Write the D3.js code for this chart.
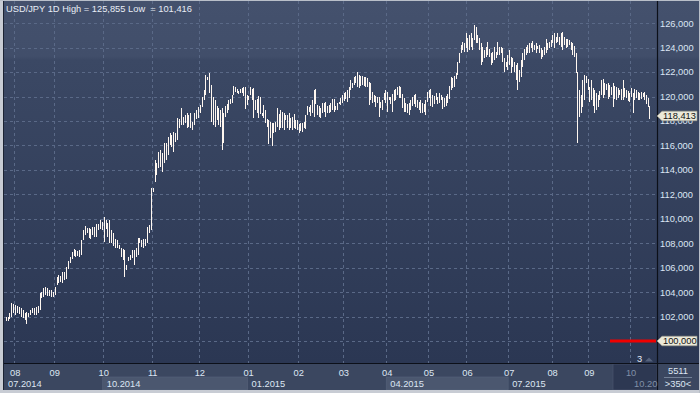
<!DOCTYPE html>
<html><head><meta charset="utf-8">
<script src="https://cdn.jsdelivr.net/npm/d3@7"></script>
<style>html,body{margin:0;padding:0;background:#3a4660;overflow:hidden}svg{display:block}text{font-family:"Liberation Sans",Arial,sans-serif}</style>
</head><body><svg id="c" width="700" height="393"></svg>
<script>
const symbol = "USD/JPY 1D";
const highs = [
101.94,101.99,102.26,103.08,103.03,102.94,102.86,102.81,102.67,102.54,
102.26,102.40,102.26,102.54,102.67,102.67,102.81,102.86,103.90,104.04,
104.31,104.39,104.31,104.17,104.17,104.04,104.44,105.26,105.37,105.32,
105.67,105.67,106.08,106.57,106.90,107.31,107.50,107.44,107.39,107.44,
108.26,109.08,109.43,109.22,109.22,109.13,109.35,109.30,109.57,109.57,
109.90,109.76,110.12,109.90,109.68,109.90,109.08,108.86,108.32,108.26,
107.85,107.58,107.50,107.44,106.22,106.90,107.03,107.44,107.44,107.58,
108.40,108.40,108.26,108.32,108.32,109.35,109.49,112.49,112.49,114.81,
114.53,115.49,115.62,115.35,116.17,116.17,116.71,116.99,116.85,117.12,
116.99,118.21,118.13,119.03,118.35,118.49,118.62,118.49,118.62,117.94,
118.62,118.90,119.17,119.31,119.99,120.53,121.76,121.62,121.95,120.94,
119.99,119.71,
119.22,119.03,118.90,119.03,118.62,119.22,119.39,119.71,119.77,120.12,
120.89,120.75,120.59,120.48,120.59,120.67,120.75,120.80,120.12,120.04,
120.75,120.59,120.67,119.71,119.77,120.04,119.99,118.68,119.31,118.90,
118.13,118.08,117.94,117.86,117.80,117.94,119.03,118.57,118.90,118.76,
118.62,118.49,118.49,118.62,118.21,118.35,118.57,118.08,118.08,117.75,
117.86,117.80,117.94,118.49,119.22,119.17,119.31,119.71,120.53,120.59,
119.31,119.22,119.03,119.44,119.50,119.58,119.22,119.31,119.44,119.77,
119.77,119.22,119.44,119.58,119.85,120.12,120.31,120.40,120.53,120.80,
121.35,121.08,121.57,121.68,122.03,121.76,121.68,121.68,121.57,121.62,
121.49,121.21,121.08,120.40,120.12,120.04,119.99,119.93,119.58,119.71,
120.31,120.53,120.40,119.99,119.99,120.21,120.53,120.59,120.75,120.86,
120.80,120.21,119.85,119.50,119.39,119.44,119.71,119.99,120.12,120.21,
119.71,119.58,119.71,119.44,119.39,119.71,120.40,120.53,
120.59,120.12,120.04,120.26,119.99,120.31,120.12,119.99,119.85,120.04,
120.21,120.86,121.57,121.49,121.68,121.89,122.85,123.53,124.21,124.49,
124.35,125.17,124.76,125.03,125.22,124.76,125.855,125.71,125.03,124.76,
124.35,124.08,123.80,124.08,124.49,123.86,123.53,123.67,124.08,123.67,
124.49,124.08,124.08,123.94,123.12,122.85,123.39,123.80,123.26,123.12,
122.85,122.58,122.71,122.17,122.99,123.53,123.86,124.08,124.21,124.35,
124.35,124.57,124.21,124.35,124.13,124.21,123.94,123.80,124.08,124.68,
124.35,124.49,124.62,125.03,125.17,124.89,125.17,124.89,125.22,125.30,
124.84,124.68,124.68,124.62,124.49,124.35,124.13,123.53,122.03,120.53,
120.12,121.35,121.76,121.68,121.40,120.80,121.35,120.67,120.53,120.26,
120.12,120.48,121.35,121.40,121.13,121.02,121.08,120.94,120.75,121.13,
120.86,120.75,120.67,120.53,120.59,121.35,120.67,120.53,120.48,120.26,
120.67,120.31,120.59,120.53,120.40,120.26,120.40,120.26,120.40,120.12,
119.85,119.22
];
const lows = [
101.66,101.66,101.77,101.99,102.32,102.13,102.26,102.21,101.99,101.85,
101.72,101.416,101.94,102.13,102.26,102.13,102.13,102.32,102.54,103.49,
103.63,103.76,103.68,103.68,103.57,103.63,103.76,104.58,104.72,104.83,
104.77,104.99,105.04,105.86,106.35,106.68,106.95,106.90,106.95,106.84,
107.03,108.26,108.67,108.81,108.45,108.32,108.67,108.48,108.48,109.08,
109.13,109.08,108.13,109.13,108.53,107.99,108.04,107.77,107.58,107.58,
107.50,106.90,106.63,105.21,105.81,106.57,106.63,106.76,106.22,106.90,
107.03,107.99,107.72,107.58,107.77,107.99,108.81,109.08,112.22,113.03,
113.58,114.12,114.26,113.85,114.53,114.81,115.21,116.03,115.90,115.49,
116.31,116.44,117.40,117.67,117.67,117.80,117.40,117.53,117.40,117.26,
117.67,118.13,118.21,118.62,119.17,119.71,120.12,121.35,120.26,117.94,
117.67,117.53,
118.08,117.67,117.53,115.62,116.22,118.30,118.62,118.90,119.39,119.44,
120.12,120.40,120.32,120.21,120.26,120.32,120.04,118.95,119.31,119.71,
120.12,119.71,118.21,118.90,118.62,118.21,118.57,118.40,118.21,117.80,
117.53,116.11,116.58,115.95,116.99,117.12,117.53,117.26,117.40,117.40,
117.26,118.08,117.40,117.26,117.40,117.26,117.40,117.31,117.26,116.99,
117.21,117.12,117.40,117.31,118.49,118.76,118.40,118.62,118.35,119.39,
118.49,118.35,118.21,118.62,118.76,118.35,118.68,118.62,118.76,118.90,
118.76,118.90,118.90,119.39,119.31,119.44,119.66,119.77,119.58,119.85,
120.53,120.67,120.94,121.08,120.80,120.67,120.86,120.94,120.86,120.75,
120.75,119.31,119.71,119.44,119.58,119.17,119.44,118.35,119.03,118.90,
119.71,119.44,118.76,119.71,119.39,118.76,119.66,119.71,120.12,119.85,
119.85,119.03,118.76,118.76,118.62,118.49,118.90,119.22,119.39,119.17,
119.03,118.90,118.62,118.62,118.76,118.49,119.58,119.85,
119.22,119.11,119.39,119.71,119.39,119.44,119.71,118.95,119.17,119.22,
119.44,119.77,120.53,120.67,120.80,121.40,121.76,122.71,123.53,123.80,
123.67,123.94,123.67,123.80,124.08,123.80,124.62,124.35,124.35,123.80,
122.58,122.85,123.12,123.26,123.39,123.26,122.58,122.71,122.99,123.12,
123.39,123.39,123.53,122.85,122.03,122.44,122.17,122.58,121.89,122.44,
122.03,121.35,120.53,121.21,121.62,122.44,122.99,123.39,123.53,123.59,
123.94,123.67,123.80,123.59,123.86,123.53,123.04,123.26,123.39,123.53,
123.80,123.94,124.08,124.35,123.94,124.35,124.49,124.21,124.08,123.80,
124.21,123.94,124.08,124.21,123.80,123.39,123.26,121.89,116.17,118.35,
118.62,119.17,119.71,121.08,120.53,119.58,119.71,119.22,118.62,118.90,
119.17,119.71,120.12,119.85,120.12,120.53,119.77,119.99,120.12,119.11,
119.77,119.71,119.85,120.12,119.71,119.71,119.99,119.85,119.66,119.58,
119.99,118.68,119.71,119.85,119.71,119.71,119.77,119.93,119.71,119.39,
119.11,118.13
];
const lastClose = 118.413;
const refLevel = 100.000;
const yTicks = [100,102,104,106,108,110,112,114,116,118,120,122,124,126];
const monthLabels = ["08","09","10","11","12","01","02","03","04","05","06","07","08","09","10"];
const monthStart  = [5,26,52,78,103,131,161,188,214,239,262,287,313,335,360];
const quarterLabels = ["07.2014","10.2014","01.2015","04.2015","07.2015","10.2015"];
const quarterStart  = [0,52,131,214,287,360];
const barCountLabel = "3";
const footerTop = "5511";
const footerBottom = ">350<";

const fmt = v => d3.format(".3f")(v).replace(".", ",");
const svg = d3.select("#c");
const P = {l:4, r:657, t:1, b:363};
const FS = 9.3;

const x = d3.scaleLinear().domain([0, 112, highs.length - 1]).range([5.7, 216.7, 649.3]);
const y = d3.scaleLinear().domain([100, 126]).range([341, 23.2]);

const defs = svg.append("defs");
const g = defs.append("linearGradient").attr("id","bg").attr("gradientUnits","userSpaceOnUse")
  .attr("x1",0).attr("y1",0).attr("x2",0).attr("y2",P.b);
[[0,"#44516d"],[0.155,"#414e6a"],[0.165,"#3b4864"],[1,"#2b3753"]].forEach(s=>g.append("stop").attr("offset",s[0]).attr("stop-color",s[1]));

// background
svg.append("rect").attr("x",0).attr("y",0).attr("width",700).attr("height",P.b).attr("fill","url(#bg)");
svg.append("rect").attr("x",0).attr("y",P.b).attr("width",700).attr("height",393-P.b).attr("fill","#3b4760");

// quarter shaded bands
const qBound = i => i === 0 ? P.l : x(quarterStart[i] - 0.5);
const qEnd = i => i + 1 < quarterStart.length ? x(quarterStart[i+1] - 0.5) : P.r;
quarterLabels.forEach((q,i)=>{
  if (i % 2 === 1 && i < quarterLabels.length - 1) {
    svg.append("rect").attr("x",qBound(i)).attr("y",377).attr("width",qEnd(i)-qBound(i)).attr("height",13)
      .attr("fill","#4b576f").attr("stroke","#56627a").attr("stroke-width",0.6);
  }
});
// dark scroll box
const boxX = 613;
svg.append("rect").attr("x",boxX).attr("y",P.b+1).attr("width",P.r-boxX).attr("height",26)
  .attr("fill","#2d3852").attr("stroke","#46526a").attr("stroke-width",0.8);

// grid
const grid = svg.append("g").attr("stroke","#5a6987").attr("stroke-width",1).attr("stroke-dasharray","3,3").attr("shape-rendering","crispEdges");
yTicks.forEach(t=>{
  grid.append("line").attr("x1",P.l).attr("x2",P.r).attr("y1",Math.round(y(t))+0.5).attr("y2",Math.round(y(t))+0.5);
});
monthStart.forEach(i=>{
  const gx = Math.round(x(i-0.5))+0.5;
  grid.append("line").attr("x1",gx).attr("x2",gx).attr("y1",P.t).attr("y2",P.b);
});

// bars
svg.append("g").attr("shape-rendering","crispEdges").selectAll("line").data(highs).join("line")
  .attr("x1",(d,i)=>Math.round(x(i))+0.5).attr("x2",(d,i)=>Math.round(x(i))+0.5)
  .attr("y1",d=>y(d)).attr("y2",(d,i)=>Math.max(y(lows[i]), y(d)+1))
  .attr("stroke","#fff7f0").attr("stroke-width",1);

// reference level red line
svg.append("line").attr("x1",610).attr("x2",P.r-1).attr("y1",y(refLevel)).attr("y2",y(refLevel))
  .attr("stroke","#f00000").attr("stroke-width",3);

// bar count marker
svg.append("text").attr("x",639.5).attr("y",361.5).attr("text-anchor","middle").attr("font-size",FS).attr("fill","#e6ecf6").text(barCountLabel);
svg.append("path").attr("d","M645,361.5L653,361.5L649,357.5Z").attr("fill","#56637d");

// axis frame lines
svg.append("line").attr("x1",P.l).attr("x2",700).attr("y1",P.b+0.5).attr("y2",P.b+0.5).attr("stroke","#0c1019").attr("stroke-width",1.2);
svg.append("line").attr("x1",P.r+0.5).attr("x2",P.r+0.5).attr("y1",0).attr("y2",390).attr("stroke","#0c1019").attr("stroke-width",1.2);

// right axis labels (the reference level label is shown by its tag)
svg.append("g").selectAll("text").data(yTicks.filter(t => t !== refLevel)).join("text")
  .attr("x",660).attr("y",d=>y(d)+3.4).attr("font-size",FS).attr("fill","#dce6f4").text(d=>fmt(d));

// price tags
function tag(v){
  const yc = y(v);
  svg.append("path").attr("d",`M${P.r},${yc}L${P.r+5},${yc-4.8}L697,${yc-4.8}L697,${yc+4.8}L${P.r+5},${yc+4.8}Z`)
    .attr("fill","#ebe9d9").attr("stroke","#9a988a").attr("stroke-width",0.6);
  svg.append("text").attr("x",P.r+6).attr("y",yc+3.3).attr("font-size",FS).attr("fill","#111").text(fmt(v));
}
tag(lastClose);
tag(refLevel);

// month labels
svg.append("g").selectAll("text").data(monthLabels).join("text")
  .attr("x",(d,i)=>x(monthStart[i]-0.5)+1).attr("y",375.5).attr("text-anchor","middle")
  .attr("font-size",FS).attr("fill",(d,i)=>x(monthStart[i]) > boxX ? "#8190a8" : "#dde6f3").text(d=>d);

// quarter labels (truncated to the visible axis area, as in the reference)
svg.append("g").selectAll("text").data(quarterLabels).join("text")
  .attr("x",(d,i)=>qBound(i)+4).attr("y",387).attr("font-size",FS)
  .attr("fill",(d,i)=>qBound(i) > boxX ? "#8190a8" : "#dde6f3").text(d=>d)
  .each(function(d,i){
    const avail = P.r + 2 - (qBound(i)+4);
    let s = d;
    while (s.length > 1 && this.getComputedTextLength() > avail) { s = s.slice(0,-1); this.textContent = s; }
  });

// footer right panel
svg.append("text").attr("x",678).attr("y",374).attr("text-anchor","middle").attr("font-size",FS).attr("fill","#dde6f3").text(footerTop);
svg.append("line").attr("x1",664).attr("x2",692).attr("y1",377.5).attr("y2",377.5).attr("stroke","#8290a6").attr("stroke-width",0.8);
svg.append("text").attr("x",678).attr("y",387).attr("text-anchor","middle").attr("font-size",FS).attr("fill","#dde6f3").text(footerBottom);

// title
svg.append("text").attr("x",6).attr("y",12).attr("font-size",FS).attr("fill","#e8edf6")
  .attr("xml:space","preserve").style("white-space","pre")
  .text(`${symbol} High = ${fmt(d3.max(highs))} Low  = ${fmt(d3.min(lows))}`);

// outer frame
svg.append("rect").attr("x",0).attr("y",0).attr("width",3).attr("height",393).attr("fill","#c8ccd4");
svg.append("line").attr("x1",3.5).attr("x2",3.5).attr("y1",0).attr("y2",390).attr("stroke","#1c2333").attr("stroke-width",1);
svg.append("rect").attr("x",0).attr("y",390).attr("width",700).attr("height",3).attr("fill","#c8ccd4");
svg.append("rect").attr("x",0).attr("y",0).attr("width",700).attr("height",1).attr("fill","#b9bfc9");
svg.append("rect").attr("x",699).attr("y",0).attr("width",1).attr("height",393).attr("fill","#b9bfc9");
</script></body></html>
